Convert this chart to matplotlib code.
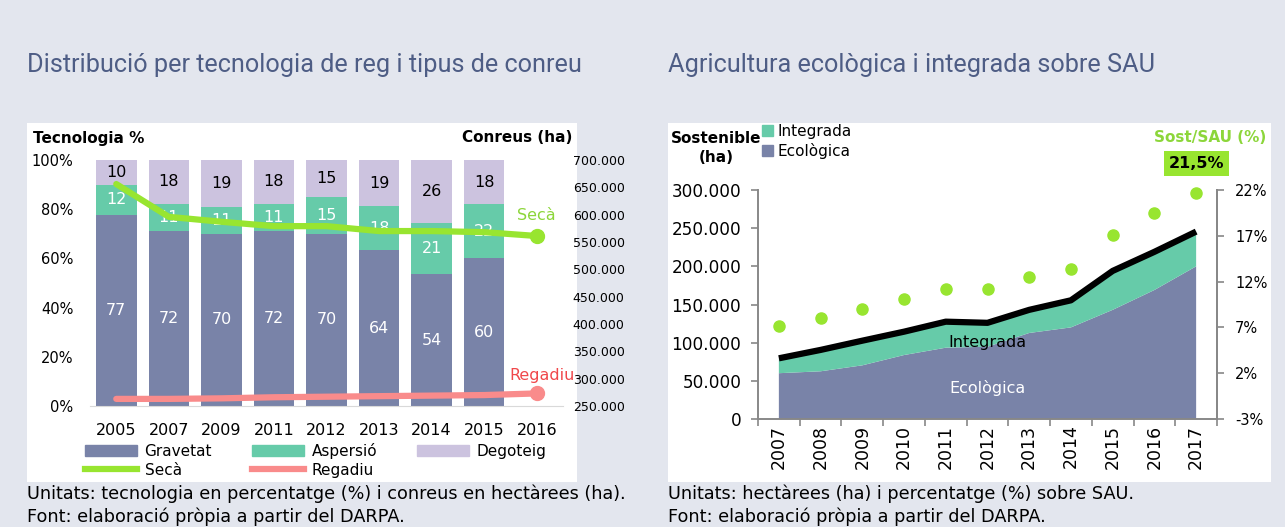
import matplotlib
matplotlib.use("Agg")
import matplotlib.pyplot as plt
from matplotlib.patches import Rectangle, Patch
from matplotlib.lines import Line2D
import numpy as np

plt.rcParams['font.family'] = ['DejaVu Sans']

# ---- data: left chart (irrigation technology, % and ha) ----
years_left = ["2005", "2007", "2009", "2011", "2012", "2013", "2014", "2015", "2016"]
gravetat = [77, 72, 70, 72, 70, 64, 54, 60]
aspersio = [12, 11, 11, 11, 15, 18, 21, 22]
degoteig = [10, 18, 19, 18, 15, 19, 26, 18]
seca_ha = [656000, 596000, 587000, 579000, 579000, 570000, 570000, 568000, 561000]
regadiu_ha = [263000, 263000, 264000, 266000, 267000, 268000, 269000, 270000, 273000]

# ---- data: right chart (ecological / integrated agriculture) ----
years_right = ["2007", "2008", "2009", "2010", "2011", "2012", "2013", "2014", "2015", "2016", "2017"]
ecologica = [60000, 62500, 70300, 83800, 93400, 94700, 112700, 120000, 143000, 169000, 200000]
integrada = [19500, 28000, 32300, 30600, 34100, 31300, 30300, 35500, 51000, 50000, 45500]
sost_sau = [7.1, 8.0, 9.0, 10.1, 11.2, 11.2, 12.5, 13.4, 17.1, 19.5, 21.7]

C_GRAV = "#7983A8"
C_ASP = "#66CBA9"
C_DEG = "#CCC3DF"
C_SECA = "#98E530"
C_REG = "#F98B8B"
C_REG_TXT = "#F0484B"
C_TITLE = "#4E5D85"
C_BG = "#E3E6EE"
C_AX = "#888888"

W, H = 1285, 527


def box(x0, y0, x1, y1):
    return [x0 / W, 1 - y1 / H, (x1 - x0) / W, (y1 - y0) / H]


def fx(x):
    return x / W


def fy(y):
    return 1 - y / H


def thousands(v, pos=None):
    if v == 0:
        return "0"
    return f"{v:,.0f}".replace(",", ".")


fig = plt.figure(figsize=(W / 100, H / 100), dpi=100, facecolor=C_BG)

# white panels
for x0, y0, x1, y1 in [(27, 123, 577, 482), (668, 123, 1271, 482)]:
    fig.add_artist(Rectangle((fx(x0), fy(y1)), (x1 - x0) / W, (y1 - y0) / H,
                             transform=fig.transFigure, facecolor="white",
                             edgecolor="none", zorder=0))

# titles
title_font = ['Roboto', 'DejaVu Sans']
fig.text(fx(27), fy(72), "Distribució per tecnologia de reg i tipus de conreu",
         family=title_font, fontsize=18.2, color=C_TITLE, va="baseline")
fig.text(fx(668), fy(72), "Agricultura ecològica i integrada sobre SAU",
         family=title_font, fontsize=18.2, color=C_TITLE, va="baseline")

# captions
fig.text(fx(27), fy(494), "Unitats: tecnologia en percentatge (%) i conreus en hectàrees (ha).",
         fontsize=12.7, va="center")
fig.text(fx(27), fy(517), "Font: elaboració pròpia a partir del DARPA.",
         fontsize=12.7, va="center")
fig.text(fx(668), fy(494), "Unitats: hectàrees (ha) i percentatge (%) sobre SAU.",
         fontsize=12.7, va="center")
fig.text(fx(668), fy(517), "Font: elaboració pròpia a partir del DARPA.",
         fontsize=12.7, va="center")

# ================= left chart =================
ax = fig.add_axes(box(90, 160, 563, 406))
ax.set_facecolor("none")
x = np.arange(len(gravetat))
tot = np.array(gravetat) + np.array(aspersio) + np.array(degoteig)
g = np.array(gravetat) / tot * 100
a = np.array(aspersio) / tot * 100
d = np.array(degoteig) / tot * 100
bw = 0.77
ax.bar(x, g, bw, color=C_GRAV, label="Gravetat", zorder=2)
ax.bar(x, a, bw, bottom=g, color=C_ASP, label="Aspersió", zorder=2)
ax.bar(x, d, bw, bottom=g + a, color=C_DEG, label="Degoteig", zorder=2)
for i in range(len(x)):
    ax.text(x[i], g[i] / 2, str(gravetat[i]), ha="center", va="center",
            color="white", fontsize=11.5, zorder=5)
    ax.text(x[i], g[i] + a[i] / 2, str(aspersio[i]), ha="center", va="center",
            color="white", fontsize=11.5, zorder=5)
    ax.text(x[i], g[i] + a[i] + d[i] / 2, str(degoteig[i]), ha="center", va="center",
            color="black", fontsize=11.5, zorder=5)

ax.set_xlim(-0.5, len(years_left) - 0.5)
ax.set_ylim(0, 100)
ax.set_yticks(range(0, 101, 20))
ax.set_yticklabels([f"{v}%" for v in range(0, 101, 20)], fontsize=10.5)
ax.set_xticks(range(len(years_left)))
ax.set_xticklabels(years_left, fontsize=11.5)
ax.tick_params(axis="y", length=0, pad=12)
ax.tick_params(axis="x", length=0, pad=12)
for s in ["top", "left", "right"]:
    ax.spines[s].set_visible(False)
ax.spines["bottom"].set_color("#D9D9D9")

ax2 = ax.twinx()
ax2.set_ylim(250000, 700000)
ax2.set_yticks(range(250000, 700001, 50000))
ax2.yaxis.set_major_formatter(matplotlib.ticker.FuncFormatter(thousands))
ax2.tick_params(axis="y", length=0, pad=7, labelsize=9)
for s in ax2.spines.values():
    s.set_visible(False)
xl = np.arange(len(years_left))
ax2.plot(xl, seca_ha, color=C_SECA, lw=4.5, solid_capstyle="round", zorder=4,
         label="Secà")
ax2.plot(xl[-1], seca_ha[-1], "o", color=C_SECA, ms=10, zorder=4)
ax2.plot(xl, regadiu_ha, color=C_REG, lw=4.5, solid_capstyle="round", zorder=4,
         label="Regadiu")
ax2.plot(xl[-1], regadiu_ha[-1], "o", color=C_REG, ms=10, zorder=4)
ax2.annotate("Secà", (xl[-1], seca_ha[-1]), xytext=(0, 15), textcoords="offset points",
             ha="center", va="center", color="#8CD63A", fontsize=11.5)
ax2.annotate("Regadiu", (xl[-1], regadiu_ha[-1]), xytext=(4, 13), textcoords="offset points",
             ha="center", va="center", color=C_REG_TXT, fontsize=11.5)

fig.text(fx(33), fy(138), "Tecnologia %", fontsize=11, fontweight="bold", va="center")
fig.text(fx(572), fy(138), "Conreus (ha)", fontsize=11, fontweight="bold", va="center",
         ha="right")

handles = [Patch(color=C_GRAV), Line2D([], [], color=C_SECA, lw=4.5),
           Patch(color=C_ASP), Line2D([], [], color=C_REG, lw=4.5),
           Patch(color=C_DEG)]
labels = ["Gravetat", "Secà", "Aspersió", "Regadiu", "Degoteig"]
fig.legend(handles, labels, ncol=3, loc="upper left",
           bbox_to_anchor=(fx(85), fy(443)), frameon=False, fontsize=11,
           handlelength=3.4, handleheight=0.75, handletextpad=0.5,
           columnspacing=2.6, labelspacing=0.25, borderpad=0, borderaxespad=0)

# ================= right chart =================
bx = fig.add_axes(box(758, 190, 1217, 419))
bx.set_facecolor("none")
xr = np.arange(len(years_right))
bx.stackplot(xr, ecologica, integrada, colors=[C_GRAV, C_ASP], zorder=2)
total = np.array(ecologica) + np.array(integrada)
bx.plot(xr, total, color="black", lw=4.5, solid_joinstyle="round",
        solid_capstyle="butt", zorder=3)
bx.set_xlim(-0.5, len(years_right) - 0.5)
bx.set_ylim(0, 300000)
bx.set_yticks(range(0, 300001, 50000))
bx.yaxis.set_major_formatter(matplotlib.ticker.FuncFormatter(thousands))
bx.set_xticks(xr)
bx.set_xticklabels(years_right, rotation=90, fontsize=12.5)
bx.set_xticks(np.arange(-0.5, len(years_right)), minor=True)
bx.tick_params(axis="x", which="major", length=0, pad=4)
bx.tick_params(axis="x", which="minor", length=5, color=C_AX, width=1.2, direction="out")
bx.tick_params(axis="y", length=5, color=C_AX, width=1.2, labelsize=12.2, pad=7)
bx.spines["top"].set_visible(False)
for s in ["left", "right", "bottom"]:
    bx.spines[s].set_color(C_AX)
    bx.spines[s].set_linewidth(1.4)

bx.text(5, 100000, "Integrada", ha="center", va="center", fontsize=11.5, color="black",
        zorder=5)
bx.text(5, 40000, "Ecològica", ha="center", va="center", fontsize=11.5, color="white",
        zorder=5)

bx2 = bx.twinx()
bx2.set_ylim(-3, 22)
bx2.set_yticks([-3, 2, 7, 12, 17, 22])
bx2.set_yticklabels([f"{v}%" for v in [-3, 2, 7, 12, 17, 22]], fontsize=10.5)
bx2.tick_params(axis="y", length=5, color=C_AX, width=1.2, pad=8)
for s in ["top", "left", "bottom"]:
    bx2.spines[s].set_visible(False)
bx2.spines["right"].set_color(C_AX)
bx2.spines["right"].set_linewidth(1.4)
bx2.plot(xr, sost_sau, "o", color=C_SECA, ms=8, zorder=4, clip_on=False)
bx2.annotate("21,5%", (xr[-1], sost_sau[-1]), xytext=(0, 21), textcoords="offset points",
             ha="center", va="center", fontsize=11.5, fontweight="bold",
             bbox=dict(boxstyle="square,pad=0.3", facecolor=C_SECA, edgecolor="none"))

fig.text(fx(1210), fy(138), "Sost/SAU (%)", fontsize=11, fontweight="bold",
         color="#8CD63A", ha="center", va="center")
fig.text(fx(716), fy(148), "Sostenible\n(ha)", fontsize=11, fontweight="bold",
         ha="center", va="center", multialignment="center", linespacing=1.3)

fig.legend([Patch(color=C_ASP), Patch(color=C_GRAV)], ["Integrada", "Ecològica"],
           loc="upper left", bbox_to_anchor=(fx(762), fy(124)), frameon=False,
           fontsize=11, handlelength=0.7, handleheight=0.7, handletextpad=0.3,
           labelspacing=0.25, borderpad=0, borderaxespad=0)

fig.savefig("out.png", dpi=100, facecolor=C_BG)
